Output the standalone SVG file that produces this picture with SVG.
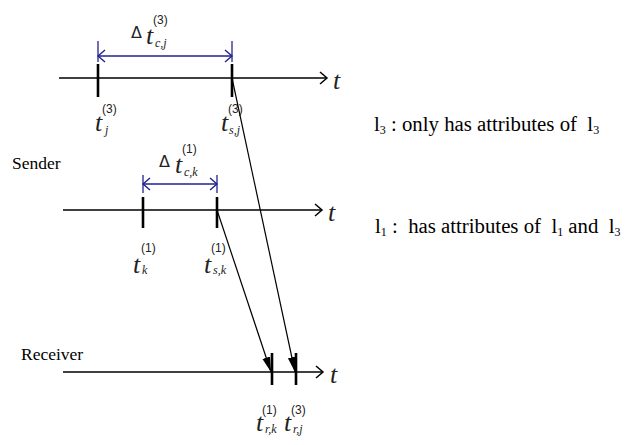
<svg xmlns="http://www.w3.org/2000/svg" width="626" height="445" viewBox="0 0 626 445">
<style>
.axis{stroke:#000;stroke-width:1.6;fill:none}
.tick{stroke:#000;stroke-width:2.6}
.dim{stroke:#22228f;stroke-width:1.5;fill:none}
.dimend{stroke:#22228f;stroke-width:1.3}
.msg{stroke:#000;stroke-width:1.2;fill:none}
.tv{font-family:"Liberation Serif","Times New Roman",serif;font-style:italic;font-size:26px;fill:#222}
.sup{font-family:"Liberation Sans",Arial,sans-serif;font-size:12px;fill:#222}
.sub{font-family:"Liberation Serif","Times New Roman",serif;font-style:italic;font-size:12px;fill:#222}
.delta{font-family:"DejaVu Sans",sans-serif;font-size:16px;fill:#222}
.lbl{font-family:"Liberation Serif","Times New Roman",serif;font-size:17.5px;fill:#000}
.note{font-family:"Liberation Serif","Times New Roman",serif;font-size:20.8px;fill:#000}
</style>
<defs>
<marker id="open" markerWidth="10" markerHeight="14" refX="8" refY="7" orient="auto" markerUnits="userSpaceOnUse">
<polyline points="1,1 8,7 1,13" fill="none" stroke="#000" stroke-width="1.5"/>
</marker>
<marker id="bopen" markerWidth="10" markerHeight="14" refX="8" refY="7" orient="auto-start-reverse" markerUnits="userSpaceOnUse">
<polyline points="1,1 8,7 1,13" fill="none" stroke="#22228f" stroke-width="1.4"/>
</marker>
<marker id="fill" markerWidth="16" markerHeight="10" refX="15" refY="5" orient="auto" markerUnits="userSpaceOnUse">
<polygon points="0,1 15,5 0,9" fill="#000"/>
</marker>
</defs>

<g id="sender-l3">
<line class="axis" x1="59" y1="78" x2="327" y2="78" marker-end="url(#open)"/>
<line class="tick" x1="98" y1="64" x2="98" y2="97"/>
<line class="tick" x1="232" y1="64" x2="232" y2="97"/>
<line class="dimend" x1="98" y1="41" x2="98" y2="62"/>
<line class="dimend" x1="232" y1="41" x2="232" y2="62"/>
<line class="dim" x1="98" y1="56" x2="232" y2="56" marker-start="url(#bopen)" marker-end="url(#bopen)"/>
<text class="tv" x="333" y="89">t</text>
<text class="delta" x="131" y="38">Δ</text>
<text class="tv" x="146" y="44">t</text>
<text class="sup" x="153" y="24">(3)</text>
<text class="sub" x="155" y="47">c,j</text>
<text class="tv" x="95" y="131">t</text>
<text class="sup" x="102" y="113">(3)</text>
<text class="sub" x="105" y="134">j</text>
<text class="tv" x="221" y="131">t</text>
<text class="sup" x="228" y="113">(3)</text>
<text class="sub" x="229" y="134">s,j</text>
</g>

<g id="sender-l1">
<line class="axis" x1="63" y1="210" x2="322" y2="210" marker-end="url(#open)"/>
<line class="tick" x1="143" y1="197" x2="143" y2="228"/>
<line class="tick" x1="217" y1="197" x2="217" y2="228"/>
<line class="dimend" x1="143" y1="175" x2="143" y2="193"/>
<line class="dimend" x1="217" y1="175" x2="217" y2="193"/>
<line class="dim" x1="143" y1="184" x2="217" y2="184" marker-start="url(#bopen)" marker-end="url(#bopen)"/>
<text class="tv" x="328" y="221">t</text>
<text class="delta" x="159" y="167">Δ</text>
<text class="tv" x="175" y="173">t</text>
<text class="sup" x="182" y="153">(1)</text>
<text class="sub" x="184" y="176">c,k</text>
<text class="tv" x="133" y="273">t</text>
<text class="sup" x="141" y="252">(1)</text>
<text class="sub" x="142" y="274">k</text>
<text class="tv" x="204" y="273">t</text>
<text class="sup" x="211" y="252">(1)</text>
<text class="sub" x="213" y="274">s,k</text>
</g>

<g id="receiver">
<line class="axis" x1="63" y1="372" x2="323" y2="372" marker-end="url(#open)"/>
<line class="tick" x1="272" y1="353" x2="272" y2="385"/>
<line class="tick" x1="296" y1="353" x2="296" y2="385"/>
<text class="tv" x="330" y="383">t</text>
<text class="tv" x="256" y="431">t</text>
<text class="sup" x="262" y="414">(1)</text>
<text class="sub" x="265" y="433">r,k</text>
<text class="tv" x="284" y="431">t</text>
<text class="sup" x="291" y="414">(3)</text>
<text class="sub" x="293" y="433">r,j</text>
</g>

<g id="labels">
<text class="lbl" x="12" y="169">Sender</text>
<text class="lbl" x="21" y="360">Receiver</text>
<text class="note" x="374" y="131">l<tspan font-size="12" dy="3">3</tspan><tspan dy="-3"> : only has attributes of&#160; l</tspan><tspan font-size="12" dy="3">3</tspan></text>
<text class="note" x="375" y="233">l<tspan font-size="12" dy="3">1</tspan><tspan dy="-3"> :&#160; has attributes of&#160; l</tspan><tspan font-size="12" dy="3">1</tspan><tspan dy="-3"> and&#160; l</tspan><tspan font-size="12" dy="3">3</tspan></text>
</g>

<g id="connectors">
<line class="msg" x1="217" y1="210" x2="271" y2="372" marker-end="url(#fill)"/>
<line class="msg" x1="232" y1="78" x2="295" y2="372" marker-end="url(#fill)"/>
</g>
</svg>
